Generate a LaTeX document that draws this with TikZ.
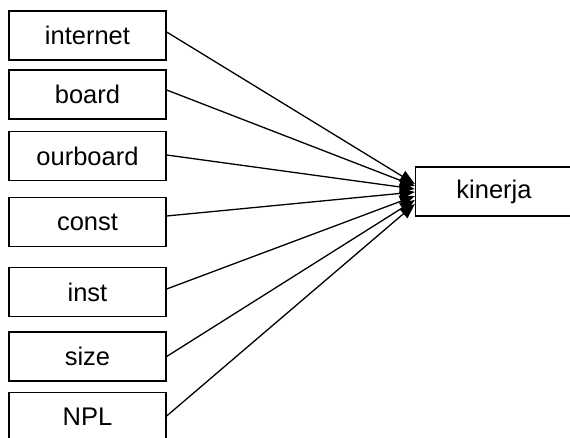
\documentclass[tikz,border=0pt]{standalone}
\usepackage{fontspec}
\setmainfont{Liberation Sans}
\usetikzlibrary{arrows.meta}

\begin{document}
\begin{tikzpicture}[x=1pt, y=-1pt,
	box/.style={draw, line width=1.3pt, minimum width=157pt, minimum height=49pt, inner sep=0pt, font=\fontsize{25.5}{28}\selectfont},
	feed/.style={line width=1.3pt, -{Triangle[length=15pt,width=12pt]}}]
	\clip (0,0) rectangle (570,438);

	\node[box] (kinerja) at (494,191.5) {kinerja};

	\foreach \name/\y/\sy/\ey in {internet/35.5/3.5/7.5, board/94.5/4.5/5.5, ourboard/156/1/2.5, const/222/6/-0.5,
		inst/292/3/-4.5, size/356.5/0/-8.5, NPL/417/1/-12.5} {
		\node[box] (\name) at (87.5,\y) {\name};
		\draw[feed] ([yshift=\sy pt]\name.east) -- ([yshift=\ey pt]kinerja.west);
	}
\end{tikzpicture}
\end{document}
